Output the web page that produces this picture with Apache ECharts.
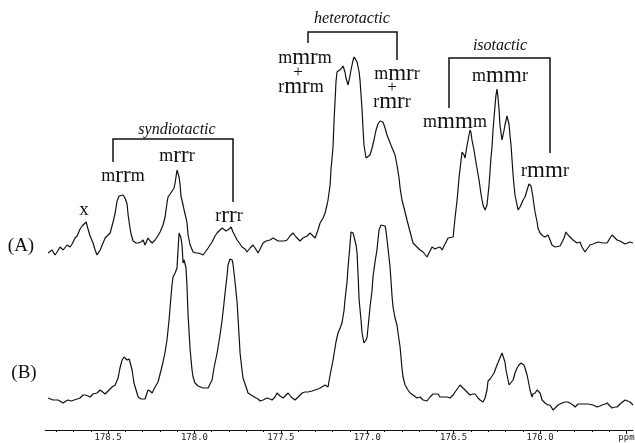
<!DOCTYPE html>
<html><head><meta charset="utf-8">
<script src="https://cdn.jsdelivr.net/npm/echarts@6/dist/echarts.min.js"></script>
<style>html,body{margin:0;padding:0;background:#fff}#c{width:635px;height:443px}</style>
</head><body><div id="c"></div>
<script>
// chemical shift (ppm) and intensity (arbitrary units)
const ppmA = [178.847,178.824,178.807,178.795,178.778,178.760,178.737,178.720,178.708,178.691,178.679,178.662,178.650,178.639,178.627,178.616,178.604,178.587,178.575,178.564,178.546,178.529,178.517,178.500,178.488,178.471,178.459,178.448,178.436,178.425,178.413,178.402,178.390,178.384,178.373,178.367,178.355,178.338,178.326,178.309,178.297,178.286,178.269,178.257,178.245,178.228,178.216,178.199,178.182,178.170,178.159,178.153,178.141,178.130,178.118,178.112,178.101,178.095,178.089,178.083,178.078,178.066,178.060,178.049,178.043,178.037,178.025,178.008,177.991,177.979,177.962,177.950,177.933,177.921,177.910,177.898,177.881,177.869,177.852,177.840,177.829,177.817,177.811,177.800,177.788,177.777,177.765,177.753,177.736,177.725,177.707,177.696,177.678,177.661,177.649,177.632,177.620,177.603,177.586,177.563,177.545,177.534,177.516,177.505,177.481,177.464,177.447,177.429,177.412,177.389,177.372,177.348,177.331,177.314,177.302,177.285,177.273,177.256,177.244,177.233,177.227,177.215,177.210,177.198,177.192,177.186,177.181,177.175,177.164,177.152,177.140,177.129,177.123,177.111,177.100,177.094,177.082,177.076,177.065,177.059,177.047,177.042,177.036,177.030,177.024,177.019,177.007,176.996,176.984,176.972,176.961,176.949,176.938,176.926,176.920,176.909,176.897,176.886,176.874,176.863,176.851,176.839,176.828,176.816,176.810,176.799,176.787,176.770,176.752,176.735,176.718,176.694,176.677,176.654,176.637,176.625,176.608,176.596,176.579,176.567,176.550,176.532,176.521,176.503,176.492,176.480,176.469,176.457,176.451,176.440,176.434,176.422,176.411,176.405,176.399,176.394,176.382,176.376,176.365,176.353,176.341,176.330,176.318,176.307,176.295,176.289,176.284,176.278,176.272,176.266,176.260,176.255,176.249,176.243,176.237,176.232,176.220,176.208,176.203,176.191,176.185,176.179,176.174,176.168,176.162,176.156,176.151,176.145,176.133,176.127,176.116,176.110,176.098,176.087,176.075,176.064,176.058,176.052,176.041,176.035,176.029,176.017,176.012,176.000,175.983,175.971,175.954,175.942,175.931,175.913,175.902,175.884,175.873,175.861,175.850,175.838,175.827,175.809,175.786,175.769,175.757,175.740,175.728,175.711,175.693,175.682,175.664,175.653,175.635,175.612,175.595,175.583,175.566,175.554,175.537,175.526,175.508,175.497,175.479,175.462];
const intA = [-8,-5,-10,-7,-2,-5,0,-2,1,7,9,16,19,21,23,16,9,2,-5,-10,-5,2,7,10,12,23,32,44,49,51,50,47,41,30,17,11,4,2,2,3,5,0,7,4,2,5,8,13,20,28,42,48,51,52,57,62,75,73,68,60,49,40,35,27,22,10,0,-7,-8,-8,-9,-10,-6,-3,0,3,9,12,15,17,19,14,13,16,18,13,9,5,1,-2,-4,-7,-3,0,-3,-8,-4,2,4,5,7,7,4,3,4,5,9,12,8,4,7,9,12,9,7,15,22,27,32,40,45,60,75,98,125,145,163,173,175,176,179,173,167,160,169,175,185,188,187,183,173,165,150,135,115,100,87,85,90,97,105,115,121,124,125,123,117,110,105,100,95,90,80,67,57,45,37,25,13,2,-1,-5,-7,-12,-6,-2,-4,-3,-2,-5,1,7,7,8,27,45,67,85,93,90,87,100,110,115,112,105,95,88,77,65,50,40,35,40,60,75,87,98,115,128,140,150,156,147,135,120,105,115,120,129,127,120,110,100,85,70,60,50,40,35,38,40,45,48,55,61,63,59,48,40,33,23,17,12,9,8,10,5,0,-2,-2,-1,0,7,13,10,8,5,2,3,-2,-7,-4,0,1,2,3,3,2,2,7,10,7,5,4,3,1,2,3,2];
const ppmB = [178.847,178.836,178.818,178.807,178.789,178.778,178.760,178.743,178.731,178.714,178.703,178.679,178.662,178.645,178.633,178.616,178.604,178.587,178.564,178.546,178.535,178.517,178.500,178.477,178.459,178.442,178.431,178.419,178.407,178.396,178.390,178.378,178.367,178.361,178.350,178.338,178.326,178.309,178.286,178.269,178.257,178.245,178.228,178.211,178.193,178.182,178.170,178.159,178.147,178.141,178.130,178.124,178.112,178.101,178.095,178.089,178.083,178.078,178.072,178.066,178.060,178.054,178.049,178.043,178.037,178.025,178.014,178.008,177.997,177.979,177.968,177.950,177.939,177.921,177.910,177.898,177.887,177.869,177.852,177.840,177.829,177.823,177.811,177.806,177.794,177.788,177.782,177.777,177.765,177.753,177.742,177.736,177.725,177.719,177.701,177.690,177.672,177.661,177.644,177.632,177.620,177.603,177.580,177.563,177.551,177.534,177.522,177.505,177.487,177.470,177.458,177.441,177.418,177.400,177.377,177.360,177.343,177.319,177.302,177.285,177.273,177.262,177.244,177.227,177.215,177.198,177.181,177.169,177.157,177.146,177.134,177.129,177.117,177.111,177.100,177.094,177.082,177.076,177.065,177.059,177.053,177.047,177.036,177.030,177.019,177.007,177.001,176.990,176.984,176.972,176.967,176.955,176.944,176.932,176.920,176.909,176.897,176.892,176.880,176.868,176.857,176.851,176.839,176.828,176.816,176.810,176.799,176.793,176.781,176.764,176.752,176.735,176.712,176.694,176.677,176.654,176.637,176.619,176.608,176.590,176.579,176.561,176.538,176.521,176.503,176.492,176.475,176.463,176.446,176.434,176.417,176.405,176.388,176.376,176.359,176.347,176.330,176.318,176.307,176.301,176.289,176.278,176.266,176.260,176.249,176.243,176.232,176.220,176.214,176.203,176.197,176.185,176.179,176.168,176.156,176.145,176.133,176.122,176.110,176.104,176.093,176.087,176.075,176.069,176.058,176.046,176.041,176.029,176.017,176.012,176.000,175.988,175.971,175.954,175.942,175.925,175.913,175.896,175.873,175.856,175.838,175.827,175.809,175.797,175.780,175.769,175.751,175.740,175.722,175.711,175.693,175.670,175.653,175.641,175.624,175.612,175.595,175.583,175.566,175.554,175.537,175.526,175.508,175.497,175.479,175.462];
const intB = [0,1,-2,-4,-2,-2,-5,-3,-2,-3,-4,-1,0,3,3,2,1,4,5,8,10,4,7,11,13,20,30,38,41,39,38,39,32,28,15,8,1,-1,-1,8,7,5,11,16,28,36,46,58,78,91,113,121,125,130,148,165,163,160,153,135,138,140,130,111,83,48,28,21,15,12,10,10,9,10,14,18,30,45,63,78,95,105,123,133,139,140,138,134,116,95,63,45,28,20,11,5,3,2,0,-1,-3,-2,0,-1,-2,1,5,2,0,3,5,1,-2,1,5,6,6,7,8,9,10,11,13,11,23,38,56,65,70,75,88,98,116,131,153,166,165,163,153,145,123,98,78,65,55,58,61,80,91,108,121,136,148,168,173,175,172,168,150,131,103,91,80,73,58,51,30,21,13,8,5,3,0,1,-2,-3,1,4,5,4,1,1,1,0,3,6,10,13,10,8,5,3,4,4,0,-2,-4,0,8,17,19,20,25,28,33,35,40,45,46,36,28,18,13,15,18,25,30,33,35,35,33,30,23,18,8,1,4,5,8,9,5,-2,-5,-7,-7,-12,-10,-7,-5,-4,-4,-5,-7,-9,-6,-5,-6,-7,-6,-5,-7,-9,-8,-7,-6,-5,-8,-10,-9,-9,-6,-4,-2,0,-4,-7];
const majorTicks = [178.5, 178.0, 177.5, 177.0, 176.5, 176.0, 175.5];
const minorTicks = [178.8,178.7,178.6,178.4,178.3,178.2,178.1,177.9,177.8,177.7,177.6,177.4,177.3,177.2,177.1,176.9,176.8,176.7,176.6,176.4,176.3,176.2,176.1,175.9,175.8,175.7,175.6];
const axisUnit = 'ppm';

const BASE_A = 185, BASE_B = 32;
const dataA = ppmA.map((p, i) => [p, intA[i] + BASE_A]);
const dataB = ppmB.map((p, i) => [p, intB[i] + BASE_B]);

const chart = echarts.init(document.getElementById('c'), null, {renderer: 'canvas', width: 635, height: 443});
const serif = '"Liberation Serif", "Times New Roman", serif';
function lab(x, y, parts, size) {
  const s = size || 18;
  return {
    type: 'text', x: x, y: y, z: 10,
    style: {
      text: parts.map(p => (p[1] ? '{b|' : '{a|') + p[0] + '}').join(''),
      rich: {
        a: {fontFamily: serif, fontSize: s, fill: '#111'},
        b: {fontFamily: serif, fontSize: s + 5, fill: '#111'}
      },
      align: 'center', verticalAlign: 'middle'
    }
  };
}
function plain(x, y, t, size, italic) {
  return {type: 'text', x: x, y: y, z: 10, style: {text: t, fontFamily: serif, fontSize: size, fontStyle: italic ? 'italic' : 'normal', fill: '#111', align: 'center', verticalAlign: 'middle'}};
}
function bracket(pts) {
  return {type: 'polyline', z: 10, shape: {points: pts}, style: {stroke: '#111', lineWidth: 1.5, fill: null}};
}

chart.setOption({
  animation: false,
  backgroundColor: '#fff',
  grid: {left: 45, right: 2, top: 0, bottom: 13, containLabel: false, outerBoundsMode: 'none'},
  xAxis: [{
    type: 'value', min: 175.462, max: 178.865, inverse: true, position: 'bottom',
    axisLine: {show: true, onZero: false, lineStyle: {color: '#111', width: 1}},
    axisTick: {show: true, length: 4, customValues: majorTicks, lineStyle: {color: '#111'}},
    axisLabel: {show: true, customValues: majorTicks, margin: 3, color: '#222',
      fontFamily: '"DejaVu Sans Mono", monospace', fontSize: 9,
      formatter: v => Math.abs(v - 175.5) < 1e-6 ? axisUnit : v.toFixed(1)},
    splitLine: {show: false}
  }, {
    type: 'value', min: 175.462, max: 178.865, inverse: true, position: 'bottom', offset: 0,
    axisLine: {show: false, onZero: false},
    axisTick: {show: true, length: 2, customValues: minorTicks, lineStyle: {color: '#111'}},
    axisLabel: {show: false},
    splitLine: {show: false}
  }],
  yAxis: {type: 'value', min: 0, max: 430, show: false},
  series: [
    {name: 'A', type: 'line', data: dataA, showSymbol: false, lineStyle: {color: '#111', width: 1.2}},
    {name: 'B', type: 'line', data: dataB, showSymbol: false, lineStyle: {color: '#111', width: 1.2}}
  ],
  graphic: [
    plain(21, 246, '(A)', 19),
    plain(24, 373, '(B)', 19),
    plain(84, 210, 'x', 19),
    lab(123, 176, [['m'], ['rr', 1], ['m']]),
    lab(177, 156, [['m'], ['rr', 1], ['r']]),
    lab(229, 216, [['r'], ['rr', 1], ['r']]),
    plain(177, 130, 'syndiotactic', 16, true),
    bracket([[113, 162], [113, 139], [233, 139], [233, 202]]),
    plain(352, 19, 'heterotactic', 16, true),
    bracket([[308, 43], [308, 32], [397, 32], [397, 60]]),
    lab(305, 58, [['m'], ['mr', 1], ['m']]),
    plain(298, 73, '+', 17),
    lab(301, 87, [['r'], ['mr', 1], ['m']]),
    lab(397, 74, [['m'], ['mr', 1], ['r']]),
    plain(392, 88, '+', 17),
    lab(392, 102, [['r'], ['mr', 1], ['r']]),
    plain(500, 46, 'isotactic', 16, true),
    bracket([[449, 108], [449, 58], [550, 58], [550, 153]]),
    lab(500, 76, [['m'], ['mm', 1], ['r']]),
    lab(455, 122, [['m'], ['mm', 1], ['m']]),
    lab(545, 171, [['r'], ['mm', 1], ['r']])
  ]
});
</script></body></html>
